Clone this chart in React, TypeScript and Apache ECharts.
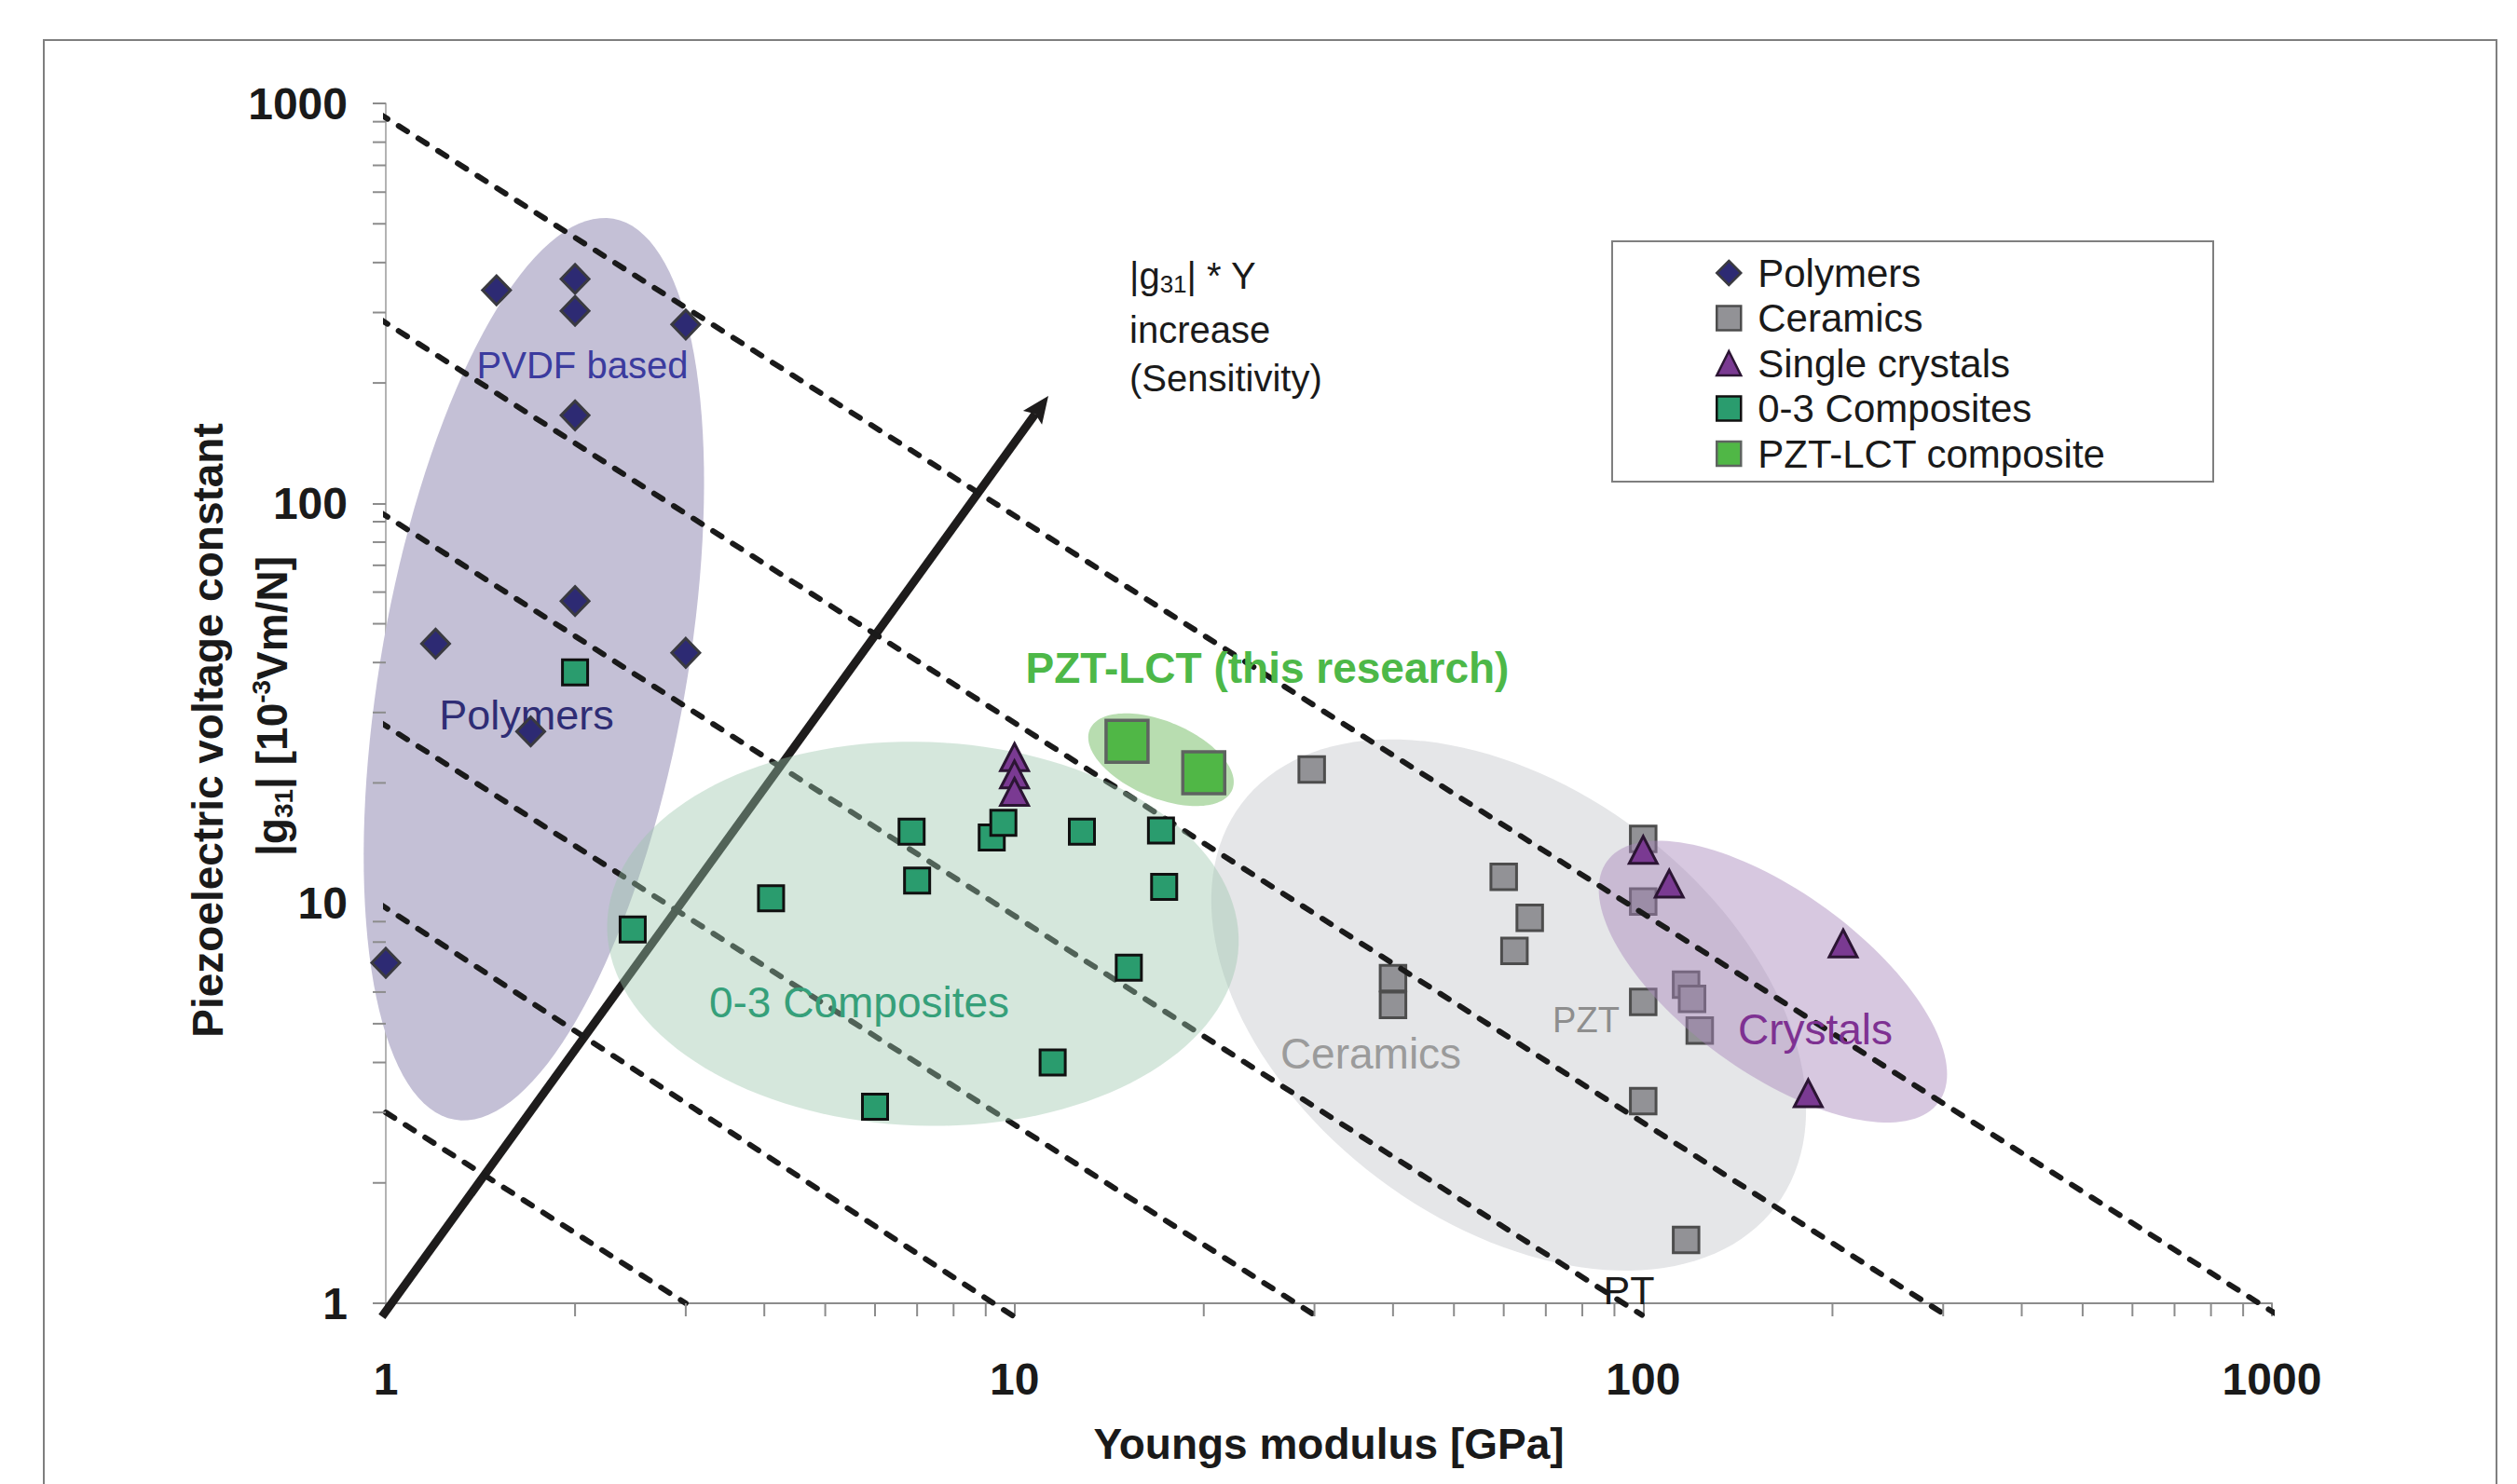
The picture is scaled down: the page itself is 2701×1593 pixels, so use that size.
import { useEffect, useRef } from "react";
import * as echarts from "echarts";

const FONT = '"Liberation Sans", Arial, Helvetica, sans-serif';
const INK = "#1a1a1a";
const AXIS_GRAY = "#8c8c8c";

// ---------- axis ticks ----------
const xTickLabels = [1, 10, 100, 1000];
const yTickLabels = [1, 10, 100, 1000];
const minorSteps = [2, 3, 4, 5, 6, 7, 8, 9];
const minorDecades = [1, 10, 100];

// ---------- data: [Youngs modulus (GPa), |g31| (1e-3 Vm/N)] ----------
const polymers = [
  [1.5, 341], [2, 364], [2, 303], [3, 280], [2, 166],
  [2, 57], [1.2, 44.6], [3, 42.3], [1.7, 26.9], [1, 7.1],
];
const ceramics = [
  [29.7, 21.6], [40, 6.5], [40, 5.57], [60, 11.65], [66, 9.2], [62.4, 7.6],
  [100, 14.5], [100, 10.1], [100, 5.67], [100, 3.2],
  [117, 6.26], [119.6, 5.77], [123, 4.81], [117, 1.44],
];
const singleCrystals = [
  [10, 23.2], [10, 21.0], [10, 19.0], [100, 13.6], [110, 11.2], [208, 7.94], [183, 3.35],
];
const composites03 = [
  [2, 37.8], [2.47, 8.6], [4.1, 10.3], [6.86, 15.1], [7.0, 11.4], [9.2, 14.6],
  [9.6, 15.9], [12.8, 15.1], [17.1, 15.2], [17.3, 11.0], [15.2, 6.9], [11.5, 4.0], [6.0, 3.1],
];
const pztLct = [[15.1, 25.4], [20.0, 21.2]];

// constant |g31|*Y guide lines: start point, end point
const sensitivityLines = [
  [[1, 3], [3, 1]],
  [[0.975, 10], [10.05, 0.92]],
  [[0.975, 28.5], [30, 0.935]],
  [[0.975, 95.5], [99.5, 0.935]],
  [[0.975, 290], [304, 0.93]],
  [[0.975, 944], [1010, 0.945]],
];
const arrowStart = [0.986, 0.926];
const arrowEnd = [11.32, 185.7];

// shaded region centres (data coordinates)
const polymerRegionCenter = [1.72, 38.5];
const compositeRegionCenter = [7.15, 8.39];
const pztLctRegionCenter = [17.1, 22.86];
const ceramicRegionCenter = [61.1, 5.57];
const crystalRegionCenter = [160.8, 6.37];

const legendNames = ["Polymers", "Ceramics", "Single crystals", "0-3 Composites", "PZT-LCT composite"];

// ---------- styles ----------
const REGION_STYLE = {
  polymers: { rx: 491, ry: 164, angle: 80, fill: "#C4C0D6" },
  composites: { rx: 339, ry: 206, angle: -2, fill: "rgba(155,198,172,0.42)" },
  pztLct: { rx: 83, ry: 41, angle: -23, fill: "#B8DDB0" },
  ceramics: { rx: 359, ry: 233, angle: -37, fill: "#E5E6E8" },
  crystals: { rx: 220, ry: 97, angle: -36, fill: "rgba(167,135,188,0.46)" },
};

function ellipseSeries(center: number[], st: any, z: number) {
  return {
    type: "custom",
    silent: true,
    z,
    clip: false,
    encode: { x: 0, y: 1 },
    data: [center],
    renderItem: (params: any, api: any) => {
      const c = api.coord([api.value(0), api.value(1)]);
      const th = (st.angle * Math.PI) / 180;
      const ux = Math.cos(th), uy = -Math.sin(th);
      const vx = Math.sin(th), vy = Math.cos(th);
      const pts: number[][] = [];
      const n = 144;
      for (let i = 0; i < n; i++) {
        const t = (i / n) * Math.PI * 2;
        const a = st.rx * Math.cos(t);
        const b = st.ry * Math.sin(t);
        pts.push([c[0] + a * ux + b * vx, c[1] + a * uy + b * vy]);
      }
      return { type: "polygon", shape: { points: pts }, style: { fill: st.fill } };
    },
  };
}

const minorTickValues = minorDecades.flatMap((d) => minorSteps.map((s) => s * d));

function tickSeries(axis: "x" | "y") {
  return {
    type: "custom",
    silent: true,
    z: 6,
    clip: false,
    encode: { x: 0, y: 1 },
    data: minorTickValues.map((v) => (axis === "x" ? [v, 1] : [1, v])),
    renderItem: (params: any, api: any) => {
      const p = api.coord([api.value(0), api.value(1)]);
      const shape =
        axis === "x"
          ? { x1: p[0], y1: p[1], x2: p[0], y2: p[1] + 14 }
          : { x1: p[0] - 14, y1: p[1], x2: p[0], y2: p[1] };
      return { type: "line", shape, style: { stroke: AXIS_GRAY, lineWidth: 2 } };
    },
  };
}

function arrowSeries() {
  return {
    type: "custom",
    silent: true,
    z: 4,
    clip: false,
    encode: { x: [0, 2], y: [1, 3] },
    data: [[arrowStart[0], arrowStart[1], arrowEnd[0], arrowEnd[1]]],
    renderItem: (params: any, api: any) => {
      const p0 = api.coord([api.value(0), api.value(1)]);
      const p1 = api.coord([api.value(2), api.value(3)]);
      const dx = p1[0] - p0[0], dy = p1[1] - p0[1];
      const len = Math.hypot(dx, dy);
      const ux = dx / len, uy = dy / len;
      const nx = -uy, ny = ux;
      const headLen = 29, headHalf = 12.5, notch = 5;
      const base = [p1[0] - ux * headLen, p1[1] - uy * headLen];
      const inner = [p1[0] - ux * (headLen - notch), p1[1] - uy * (headLen - notch)];
      return {
        type: "group",
        children: [
          {
            type: "line",
            shape: { x1: p0[0], y1: p0[1], x2: inner[0], y2: inner[1] },
            style: { stroke: "#1e1c1c", lineWidth: 9 },
          },
          {
            type: "polygon",
            shape: {
              points: [
                p1,
                [base[0] + nx * headHalf, base[1] + ny * headHalf],
                inner,
                [base[0] - nx * headHalf, base[1] - ny * headHalf],
              ],
            },
            style: { fill: "#1e1c1c" },
          },
        ],
      };
    },
  };
}

function txt(text: string, x: number, y: number, size: number, fill: string, opts: any = {}) {
  return {
    type: "text",
    x,
    y,
    z: opts.z ?? 5.5,
    silent: true,
    rotation: opts.rotation ?? 0,
    style: {
      text,
      fontFamily: FONT,
      fontSize: size,
      fontWeight: opts.bold ? "bold" : "normal",
      fill,
      align: opts.align ?? "center",
      verticalAlign: "middle",
      rich: opts.rich,
    },
  };
}

export default function App() {
  const ref = useRef<HTMLDivElement>(null);

  useEffect(() => {
    document.body.style.margin = "0";
    document.body.style.overflow = "hidden";
    const chart = echarts.init(ref.current!, null, { renderer: "svg" });

    const axisLabelCommon = {
      fontFamily: FONT,
      fontSize: 48,
      fontWeight: "bold",
      color: INK,
      showMinLabel: true,
      showMaxLabel: true,
      formatter: (v: number) => {
        const r = Math.round(v);
        return xTickLabels.includes(r) || yTickLabels.includes(r) ? String(r) : "";
      },
    };

    const scatterBase = { type: "scatter", clip: false, silent: true, z: 6, symbolKeepAspect: true };

    const option: any = {
      animation: false,
      backgroundColor: "#ffffff",
      tooltip: { show: false },
      grid: { left: 414, right: 263, top: 111, bottom: 194, containLabel: false, outerBoundsMode: "none" },
      xAxis: {
        type: "log",
        logBase: 10,
        min: 1,
        max: 1000,
        axisLine: { show: true, onZero: false, lineStyle: { color: AXIS_GRAY, width: 2 } },
        axisTick: { show: true, inside: false, length: 14, lineStyle: { color: AXIS_GRAY, width: 2 } },
        splitLine: { show: false },
        minorTick: { show: false },
        axisLabel: { ...axisLabelCommon, margin: 57 },
        name: "Youngs modulus [GPa]",
        nameLocation: "middle",
        nameGap: 128,
        nameTextStyle: { fontFamily: FONT, fontSize: 46, fontWeight: "bold", color: INK },
      },
      yAxis: {
        type: "log",
        logBase: 10,
        min: 1,
        max: 1000,
        axisLine: { show: true, onZero: false, lineStyle: { color: "#9a9a9a", width: 1.5 } },
        axisTick: { show: true, inside: false, length: 14, lineStyle: { color: AXIS_GRAY, width: 2 } },
        splitLine: { show: false },
        minorTick: { show: false },
        axisLabel: { ...axisLabelCommon, margin: 41, padding: [10, 0, 0, 0] },
      },
      legend: {
        data: legendNames,
        orient: "vertical",
        left: 1841,
        top: 271,
        padding: 0,
        itemWidth: 26,
        itemHeight: 26,
        itemGap: 4.5,
        selectedMode: false,
        symbolKeepAspect: true,
        itemStyle: { borderWidth: 2.5 },
        textStyle: { fontFamily: FONT, fontSize: 42, color: INK, lineHeight: 44, padding: [0, 0, 0, 13] },
      },
      graphic: {
        elements: [
          {
            type: "rect",
            silent: true,
            z: 0,
            shape: { x: 47, y: 43, width: 2632, height: 1620 },
            style: { fill: "none", stroke: "#7f7f7f", lineWidth: 2 },
          },
          {
            type: "rect",
            silent: true,
            z: 0,
            shape: { x: 1730, y: 259, width: 645, height: 258 },
            style: { fill: "none", stroke: "#7f7f7f", lineWidth: 2 },
          },
          txt("Piezoelectric voltage constant", 223, 784, 46, INK, { bold: true, rotation: Math.PI / 2, z: 10 }),
          txt("{m||g}{s|31}{m|| [10}{p|-3}{m|Vm/N]}", 292, 758, 46, INK, {
            bold: true,
            rotation: Math.PI / 2,
            z: 10,
            rich: {
              m: { fontFamily: FONT, fontSize: 46, fontWeight: "bold", fill: INK, lineHeight: 52 },
              s: { fontFamily: FONT, fontSize: 28, fontWeight: "bold", fill: INK, lineHeight: 28, verticalAlign: "bottom" },
              p: { fontFamily: FONT, fontSize: 28, fontWeight: "bold", fill: INK, lineHeight: 20, verticalAlign: "top" },
            },
          }),
          txt("{m||g}{s|31}{m|| * Y}", 1212, 296, 40, INK, {
            align: "left",
            z: 10,
            rich: {
              m: { fontFamily: FONT, fontSize: 40, fill: INK, lineHeight: 44 },
              s: { fontFamily: FONT, fontSize: 26, fill: INK, lineHeight: 26, verticalAlign: "bottom" },
            },
          }),
          txt("increase", 1212, 354, 40, INK, { align: "left", z: 10 }),
          txt("(Sensitivity)", 1212, 406, 40, INK, { align: "left", z: 10 }),
          txt("PVDF based", 625, 392, 40, "#3B3B9E"),
          txt("Polymers", 565, 767, 45, "#2F2D75"),
          txt("0-3 Composites", 922, 1076, 46, "#36A07A"),
          txt("PZT-LCT (this research)", 1360, 717, 46, "#4DB848", { bold: true }),
          txt("Ceramics", 1471, 1131, 46, "#9B9B9B"),
          txt("PZT", 1702, 1095, 38, "#8E8E8E"),
          txt("PT", 1748, 1385, 43, INK),
          txt("Crystals", 1948, 1105, 46, "#7E3192"),
        ],
      },
      series: [
        ellipseSeries(polymerRegionCenter, REGION_STYLE.polymers, 1),
        ellipseSeries(ceramicRegionCenter, REGION_STYLE.ceramics, 1),
        ellipseSeries(pztLctRegionCenter, REGION_STYLE.pztLct, 1),
        {
          ...scatterBase,
          name: "Ceramics",
          z: 2,
          data: ceramics,
          symbol: "rect",
          symbolSize: 27.5,
          itemStyle: { color: "#929296", borderColor: "#4D4D4D", borderWidth: 3, opacity: 1 },
        },
        ellipseSeries(crystalRegionCenter, REGION_STYLE.crystals, 3),
        ...sensitivityLines.map((pts) => ({
          type: "line",
          data: pts,
          symbol: "none",
          showSymbol: false,
          clip: false,
          silent: true,
          z: 4,
          lineStyle: { color: INK, width: 6, type: [11, 14], cap: "round" },
        })),
        arrowSeries(),
        ellipseSeries(compositeRegionCenter, REGION_STYLE.composites, 5),
        {
          ...scatterBase,
          name: "Polymers",
          data: polymers,
          symbol: "diamond",
          symbolSize: [30, 31],
          itemStyle: { color: "#2D2A73", borderColor: "#3A3A40", borderWidth: 3, opacity: 1 },
        },
        {
          ...scatterBase,
          name: "0-3 Composites",
          data: composites03,
          symbol: "rect",
          symbolSize: 27,
          itemStyle: { color: "#2A9C6E", borderColor: "#101010", borderWidth: 3, opacity: 1 },
        },
        {
          ...scatterBase,
          name: "Single crystals",
          data: singleCrystals,
          symbol: "triangle",
          symbolSize: [30, 29],
          itemStyle: { color: "#7A3A92", borderColor: "#2B1533", borderWidth: 3, opacity: 1 },
        },
        {
          ...scatterBase,
          name: "PZT-LCT composite",
          data: pztLct,
          symbol: "rect",
          symbolSize: 45,
          itemStyle: { color: "#50B746", borderColor: "#5E6460", borderWidth: 3.5, opacity: 1 },
        },
        tickSeries("x"),
        tickSeries("y"),
      ],
    };

    chart.setOption(option);
    return () => chart.dispose();
  }, []);

  return <div ref={ref} style={{ width: 2701, height: 1593 }} />;
}
